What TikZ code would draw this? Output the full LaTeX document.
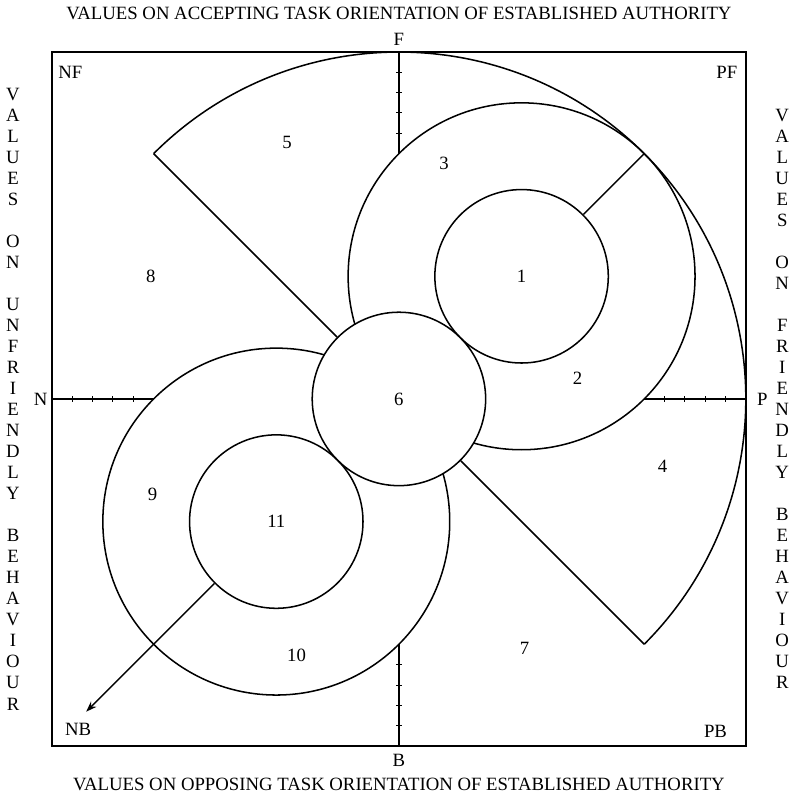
\documentclass[tikz,border=0pt]{standalone}
\usepackage{fontspec}
\setmainfont{Liberation Serif}
\usetikzlibrary{arrows.meta,positioning}

\begin{document}
\begin{tikzpicture}[
    x=2cm, y=2cm,
    line width=1pt,
    lbl/.style={font=\fontsize{12.3}{14}\selectfont, inner sep=1pt},
    ring/.style={circle, draw, minimum size=4cm, inner sep=0pt, font=\fontsize{12.3}{14}\selectfont},
    column/.style={align=center, font=\fontsize{12.3}{13.8}\selectfont, inner sep=0pt},
    arrow/.style={-{Stealth[length=7pt,width=5pt]}}
]
\useasboundingbox (-4.6,-4.59) rectangle (4.54,4.6);

% Frame
\draw[line width=1.3pt] (-4,-4) rectangle (4,4);

% Outer rings
\draw (45:2) circle[radius=2];
\draw (225:2) circle[radius=2];

% Big sweep through F and P
\draw (135:4) arc[start angle=135, end angle=-45, radius=4];

% Centre and inner circles
\node[ring, fill=white] (c6) at (0,0) {6};
\node[ring] (c1) at (45:2) {1};
\node[ring] (c11) at (225:2) {11};

% Radial cuts
\coordinate (ul) at (135:4);
\coordinate (lr) at (-45:4);
\coordinate (ur) at (45:4);
\coordinate (nbtip) at (225:5.1);
\draw (c6.135) -- (ul);
\draw (c6.-45) -- (lr);
\draw (c1.45) -- (ur);
\draw[arrow] (c11.225) -- (nbtip);

% Scales on the four axes
\foreach \a in {0,90,180,270} {
  \draw[rotate=\a, line width=1.2pt] (2.828,0) -- (4,0);
  \foreach \k in {1,...,4}
    \draw[rotate=\a, line width=0.6pt] ({4-\k*0.234},-0.03) -- ({4-\k*0.234},0.03);
}

% Axis ends
\node[lbl] (F) at (0,4.15) {F};
\node[lbl] (B) at (0,-4.17) {B};
\node[lbl] (N) at (-4.13,0) {N};
\node[lbl] (P) at (4.19,0) {P};

% Corners
\node[lbl] (NF) at (-3.79,3.77) {NF};
\node[lbl] (PF) at (3.78,3.77) {PF};
\node[lbl] (NB) at (-3.70,-3.81) {NB};
\node[lbl] (PB) at (3.65,-3.83) {PB};

% Region numbers
\node[lbl] (r2) at (2.06,0.24) {2};
\node[lbl] (r3) at (0.52,2.72) {3};
\node[lbl] (r4) at (3.04,-0.78) {4};
\node[lbl] (r5) at (-1.29,2.96) {5};
\node[lbl] (r7) at (1.45,-2.88) {7};
\node[lbl] (r8) at (-2.86,1.41) {8};
\node[lbl] (r9) at (-2.84,-1.10) {9};
\node[lbl] (r10) at (-1.18,-2.96) {10};

% Titles
\node[lbl] (toptitle) at (0,4.44) {VALUES ON ACCEPTING TASK ORIENTATION OF ESTABLISHED AUTHORITY};
\node[lbl] (bottitle) at (0,-4.45) {VALUES ON OPPOSING TASK ORIENTATION OF ESTABLISHED AUTHORITY};
\node[column] (lefttitle) at (-4.45,0) {V\\A\\L\\U\\E\\S\\[13.8pt]O\\N\\[13.8pt]U\\N\\F\\R\\I\\E\\N\\D\\L\\Y\\[13.8pt]B\\E\\H\\A\\V\\I\\O\\U\\R};
\node[column] (righttitle) at (4.42,0) {V\\A\\L\\U\\E\\S\\[13.8pt]O\\N\\[13.8pt]F\\R\\I\\E\\N\\D\\L\\Y\\[13.8pt]B\\E\\H\\A\\V\\I\\O\\U\\R};

\end{tikzpicture}
\end{document}
